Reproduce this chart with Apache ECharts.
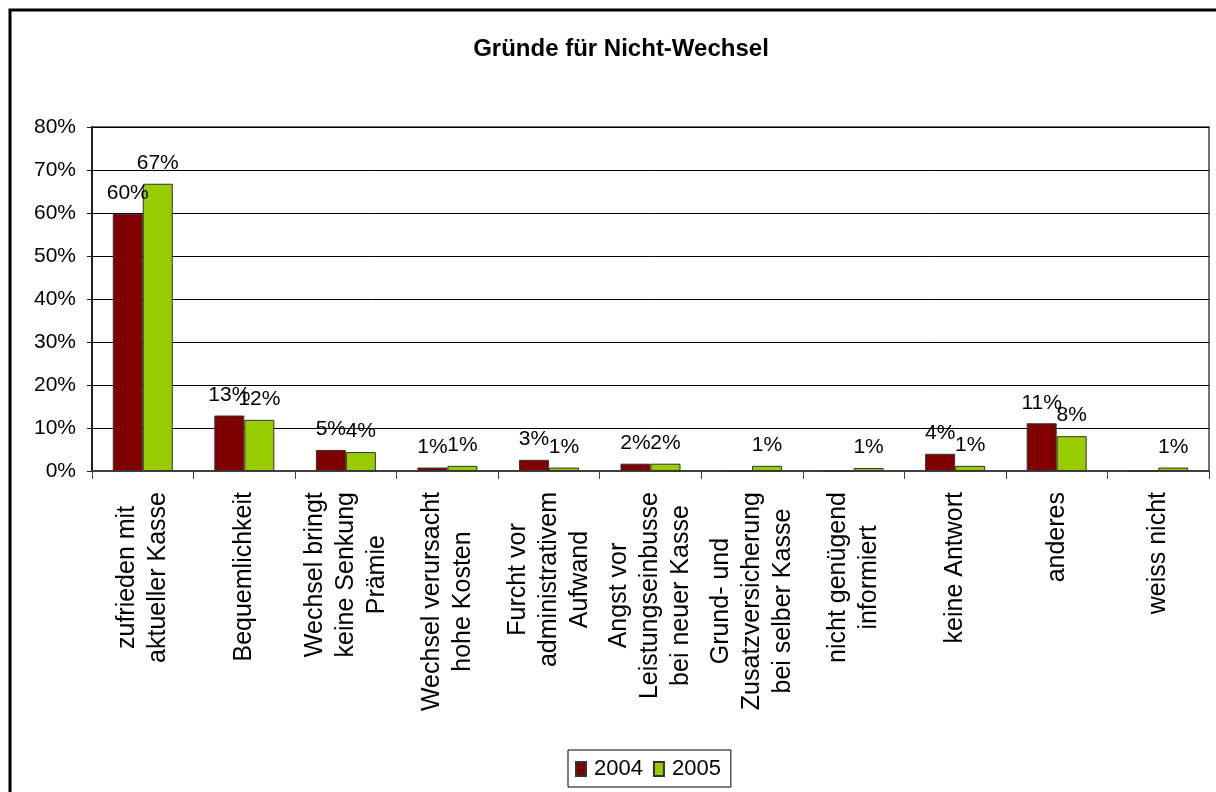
<!DOCTYPE html>
<html>
<head>
<meta charset="utf-8">
<title>Gründe für Nicht-Wechsel</title>
<script src="https://cdn.jsdelivr.net/npm/echarts@6/dist/echarts.min.js"></script>
<style>
  html, body { margin: 0; padding: 0; background: #fff; }
  #main { width: 1216px; height: 792px; }
</style>
</head>
<body>
<div id="main"></div>
<script>
// categories (line breaks as in the original)
const categories = [
  'zufrieden mit\naktueller Kasse',
  'Bequemlichkeit',
  'Wechsel bringt\nkeine Senkung\nPrämie',
  'Wechsel verursacht\nhohe Kosten',
  'Furcht vor\nadministrativem\nAufwand',
  'Angst vor\nLeistungseinbusse\nbei neuer Kasse',
  'Grund- und\nZusatzversicherung\nbei selber Kasse',
  'nicht genügend\ninformiert',
  'keine Antwort',
  'anderes',
  'weiss nicht'
]
const seriesNames = ['2004', '2005']
// percent values
const values2004 = [59.8, 12.9, 4.9, 0.8, 2.6, 1.7, 0, 0, 4.0, 11.1, 0]
const values2005 = [66.8, 11.9, 4.4, 1.2, 0.8, 1.7, 1.2, 0.7, 1.2, 8.1, 0.8]
const yTicks = [0, 10, 20, 30, 40, 50, 60, 70, 80]

const font = 'Liberation Sans, Arial, sans-serif'

const chartDom = document.getElementById('main')
const myChart = echarts.init(chartDom, null, { renderer: 'canvas' })

const barLabel = {
  show: true,
  position: 'top',
  distance: 10,
  color: '#000',
  fontSize: 21,
  fontFamily: font,
  formatter: function (p) {
    return p.value > 0 ? Math.round(p.value) + '%' : ''
  }
}

let option = {
  backgroundColor: '#fff',
  animation: false,
  title: {
    text: 'Gründe für Nicht-Wechsel',
    left: 616,
    textAlign: 'center',
    top: 32,
    textStyle: {
      fontFamily: font,
      fontSize: 24,
      fontWeight: 'bold',
      color: '#000'
    }
  },
  graphic: [
    {
      type: 'rect',
      shape: { x: 10, y: 10, width: 1240, height: 820 },
      style: { fill: 'none', stroke: '#000', lineWidth: 3 },
      silent: true
    }
  ],
  legend: {
    data: seriesNames,
    left: 568,
    top: 750,
    orient: 'horizontal',
    icon: 'rect',
    itemWidth: 10,
    itemHeight: 14,
    itemGap: 10,
    padding: [8, 10, 7, 7],
    borderColor: '#000',
    borderWidth: 1,
    backgroundColor: '#fff',
    textStyle: {
      fontFamily: font,
      fontSize: 22,
      color: '#000',
      padding: [0, 0, 0, 3]
    }
  },
  grid: {
    left: 92,
    right: 7,
    top: 127,
    bottom: 321,
    show: true,
    borderColor: '#707070',
    borderWidth: 2,
    containLabel: false
  },
  xAxis: {
    type: 'category',
    data: categories,
    boundaryGap: true,
    axisLine: { lineStyle: { color: '#404040', width: 2 } },
    axisTick: { show: true, length: 8, lineStyle: { color: '#404040', width: 1 } },
    axisLabel: {
      interval: 0,
      rotate: 90,
      margin: 21,
      formatter: function (value) {
        return value.split('\n').map(function (s) { return '{c|' + s + '}' }).join('\n')
      },
      rich: {
        c: {
          fontFamily: font,
          fontSize: 25,
          lineHeight: 31,
          color: '#000',
          align: 'center'
        }
      }
    }
  },
  yAxis: {
    type: 'value',
    min: yTicks[0],
    max: yTicks[yTicks.length - 1],
    interval: 10,
    axisLine: { show: true, lineStyle: { color: '#202020', width: 2 } },
    axisTick: { show: true, length: 5, lineStyle: { color: '#202020' } },
    splitLine: { show: true, lineStyle: { color: '#000', width: 1 } },
    axisLabel: {
      margin: 16,
      color: '#000',
      fontFamily: font,
      fontSize: 21,
      formatter: '{value}%'
    }
  },
  series: [
    {
      name: seriesNames[0],
      type: 'bar',
      data: values2004,
      barWidth: 30,
      barGap: '0%',
      label: barLabel,
      itemStyle: { color: '#800000', borderColor: '#333', borderWidth: 1 }
    },
    {
      name: seriesNames[1],
      type: 'bar',
      data: values2005,
      barWidth: 30,
      barGap: '0%',
      label: barLabel,
      itemStyle: { color: '#99CC00', borderColor: '#333', borderWidth: 1 }
    }
  ]
}
myChart.setOption(option)
</script>
</body>
</html>
